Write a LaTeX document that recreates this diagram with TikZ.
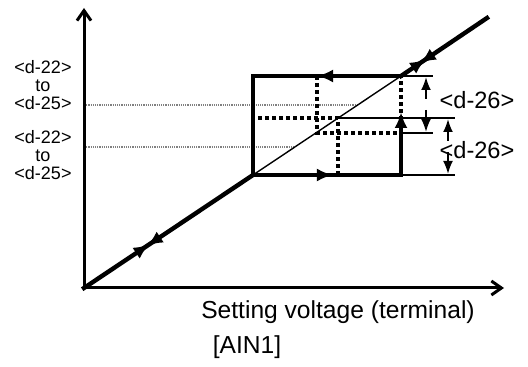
\documentclass[tikz,border=0pt]{standalone}
\usepackage{fontspec}
\setmainfont{Liberation Sans}
\usetikzlibrary{arrows.meta, decorations.markings}

\begin{document}
\begin{tikzpicture}[
        x=0.5pt, y=-0.5pt,
        axis/.style={line width=1.5pt, {Straight Barb[length=5pt,width=7pt]}-{Straight Barb[length=5pt,width=7pt]}},
        heavy/.style={line width=2.2pt, line cap=rect},
        fine/.style={line width=0.7pt},
        guide/.style={gray, line width=0.6pt, dash pattern=on 0.6pt off 0.5pt},
        loopdot/.style={line width=1.6pt, dash pattern=on 2pt off 1.5pt},
        dim/.style={line width=1pt, -{Latex[length=6.5pt,width=5pt]}},
        tip/.style={-{Latex[length=8pt,width=6.5pt]}},
        fwd/.style={postaction=decorate, decoration={markings,
            mark=at position #1 with {\arrow{Latex[length=8pt,width=6.5pt]}}}},
        twoway/.style 2 args={postaction=decorate, decoration={markings,
            mark=at position #1 with {\arrow{Latex[length=8pt,width=6.5pt]}},
            mark=at position #2 with {\arrowreversed{Latex[length=8pt,width=6.5pt]}}}},
        lbl/.style={align=center, font=\fontsize{9}{9}\selectfont, inner sep=0pt},
        dimlbl/.style={font=\fontsize{11.8}{12}\selectfont, inner sep=0pt},
        axlbl/.style={font=\fontsize{12.3}{13}\selectfont, inner sep=0pt}
    ]
        \useasboundingbox (0,0) rectangle (528,367);
        % axes and loop corners
        \coordinate (o) at (84,288);
        \coordinate (ytip) at (84,8);
        \coordinate (xtip) at (504,288);
        \coordinate (a) at (253,175);
        \coordinate (tl) at (253,76);
        \coordinate (b) at (401,76);
        \coordinate (br) at (401,175);
        \coordinate (e) at (487,18);
        \coordinate (up) at (401,112);
        % inner loops
        \coordinate (p1) at (317,76);  \coordinate (p2) at (317,133); \coordinate (p3) at (401,133);
        \coordinate (q1) at (338,175); \coordinate (q2) at (338,118); \coordinate (q3) at (253,118);
        % guides and dimension lines
        \coordinate (g1) at (84,105);  \coordinate (g1d) at (358,105);
        \coordinate (g2) at (84,147);  \coordinate (g2d) at (295,147);
        \coordinate (x1) at (433,76);  \coordinate (x2) at (433,133);
        \coordinate (x3) at (455,118); \coordinate (x4) at (455,175);
        \coordinate (d1) at (426,99);  \coordinate (d1e) at (426,77);
        \coordinate (d2) at (426,110); \coordinate (d2e) at (426,132);
        \coordinate (d3) at (448,141); \coordinate (d3e) at (448,119);
        \coordinate (d4) at (448,152); \coordinate (d4e) at (448,174);

        \draw[guide] (g1) -- (g1d); \draw[guide] (g2) -- (g2d);
        \draw[loopdot] (p1) -- (p2) -- (p3) -- (b);
        \draw[loopdot] (q1) -- (q2) -- (q3) -- (a);
        \draw[fine] (a) -- (b);
        \draw[fine] (b) -- (x1); \draw[fine] (p3) -- (x2);
        \draw[fine] (q2) -- (x3); \draw[fine] (br) -- (x4);
        \draw[dim] (d1) -- (d1e); \draw[dim] (d2) -- (d2e);
        \draw[dim] (d3) -- (d3e); \draw[dim] (d4) -- (d4e);

        \draw[axis] (ytip) -- (o) -- (xtip);
        \draw[heavy, twoway={0.388}{0.372}] (o) -- (a);
        \draw[heavy, twoway={0.29}{0.22}] (b) -- (e);
        \draw[heavy, fwd=0.34] (b) -- (tl) -- (a);
        \draw[heavy, fwd=0.54] (a) -- (br);
        \draw[heavy, tip] (br) -- (up);

        \node[lbl] (lo1) at (43,85) {<d-22>\\to\\<d-25>};
        \node[lbl] (lo2) at (43,155) {<d-22>\\to\\<d-25>};
        \node[dimlbl] (w1) at (477,100) {<d-26>};
        \node[dimlbl] (w2) at (477,150) {<d-26>};
        \node[axlbl] (xl) at (338,312) {Setting voltage (terminal)};
        \node[axlbl] (ain) at (247,347) {[AIN1]};
    \end{tikzpicture}
\end{document}
